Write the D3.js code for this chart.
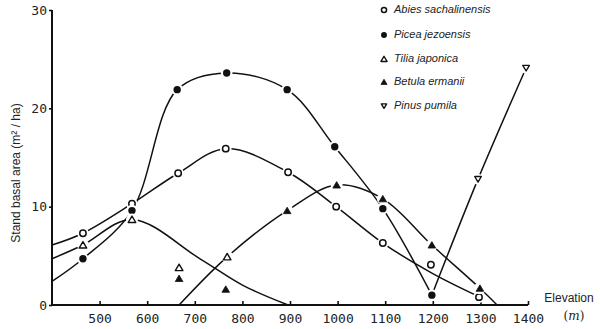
<!DOCTYPE html>
<html>
<head>
<meta charset="utf-8">
<script src="https://cdn.jsdelivr.net/npm/d3@7"></script>
<style>
  body { margin: 0; background: #fff; }
  svg { display: block; }
</style>
</head>
<body>
<div id="chart"></div>
<script>
/**
 * Data (elevation in m, stand basal area in m2/ha)
 */
const xTicks = [500, 600, 700, 800, 900, 1000, 1100, 1200, 1300, 1400];
const yTicks = [0, 10, 20, 30];

const speciesNames = ["Abies sachalinensis", "Picea jezoensis", "Tilia japonica", "Betula ermanii", "Pinus pumila"];
const speciesSymbols = ["openCircle", "circle", "openTriangle", "triangle", "openDown"];

// observed points
const abiesPoints = [[465, 7.3], [568, 10.3], [665, 13.4], [765, 15.9], [896, 13.5], [997, 10.0], [1095, 6.3], [1196, 4.1], [1297, 0.8]];
const piceaPoints = [[465, 4.7], [568, 9.6], [663, 21.9], [767, 23.6], [894, 21.9], [994, 16.1], [1095, 9.8], [1198, 1.0]];
const tiliaPoints = [[465, 6.1], [568, 8.7], [667, 3.8], [768, 4.9]];
const betulaPoints = [[667, 2.7], [765, 1.6], [894, 9.6], [998, 12.2], [1095, 10.8], [1198, 6.1], [1299, 1.7]];
const pinusPoints = [[1295, 12.8], [1396, 24.1]];

// hand fitted curves
const abiesCurve = [[400, 6.1], [465, 7.3], [568, 10.3], [665, 13.4], [765, 15.9], [896, 13.5], [997, 10.0], [1095, 6.3], [1200, 3.2], [1295, 0.9]];
const piceaCurve = [[400, 2.4], [465, 4.7], [568, 9.6], [663, 21.9], [767, 23.6], [894, 21.9], [994, 16.1], [1095, 9.8], [1198, 1.0]];
const tiliaCurve = [[400, 4.7], [465, 6.1], [568, 8.7], [711, 4.7], [801, 2.0], [896, 0]];
const betulaCurve = [[667, 0], [768, 4.9], [894, 9.6], [998, 12.2], [1095, 10.8], [1198, 6.1], [1299, 1.7], [1335, 0]];
const pinusCurve = [[1198, 1.0], [1295, 12.8], [1396, 24.1]];

/**
 * Basic settings
 */
const canvasWidth = 600;
const canvasHeight = 329;

const svg = d3.select("#chart")
  .append("svg")
  .attr("width", canvasWidth)
  .attr("height", canvasHeight)
  .style("background", "#ffffff");

const xScale = d3.scaleLinear()
  .domain([400, 1400])
  .range([52, 528]);

const yScale = d3.scaleLinear()
  .domain([0, 30])
  .range([305, 10]);

/**
 * Axes
 */
const xAxis = d3.axisBottom(xScale)
  .tickValues(xTicks)
  .tickSize(-4)
  .tickPadding(9)
  .tickFormat(d3.format("d"));

const gx = svg.append("g")
  .attr("transform", "translate(0," + yScale(0) + ")")
  .call(xAxis);

const yAxis = d3.axisLeft(yScale)
  .tickValues(yTicks)
  .tickSize(3)
  .tickPadding(2);

const gy = svg.append("g")
  .attr("transform", "translate(" + xScale(400) + ",0)")
  .call(yAxis);

[gx, gy].forEach(function(g) {
  g.select(".domain").attr("stroke", "#111").attr("stroke-width", 2);
  g.selectAll(".tick line").attr("stroke", "#111").attr("stroke-width", 1.6);
  g.selectAll(".tick text")
    .attr("fill", "#222")
    .style("font-family", "'DejaVu Sans Mono', monospace")
    .style("font-size", "13px");
});
gy.select(".domain").attr("d", "M0," + yScale(30) + "V" + yScale(0));
gx.select(".domain").attr("d", "M" + xScale(400) + ",0H" + xScale(1400));

svg.append("text")
  .attr("transform", "translate(17," + 173 + ") rotate(-90)")
  .attr("text-anchor", "middle")
  .attr("dominant-baseline", "middle")
  .style("font-family", "'Liberation Sans', Arial, sans-serif")
  .style("font-size", "12px")
  .attr("fill", "#222")
  .text("Stand basal area (m² / ha)");

svg.append("text")
  .attr("x", 569)
  .attr("y", 302)
  .attr("text-anchor", "middle")
  .style("font-family", "'Liberation Sans', Arial, sans-serif")
  .style("font-size", "12px")
  .attr("fill", "#222")
  .text("Elevation");

svg.append("text")
  .attr("x", 574)
  .attr("y", 320)
  .attr("text-anchor", "middle")
  .style("font-family", "'DejaVu Serif', serif")
  .style("font-size", "12px")
  .attr("fill", "#222")
  .html("(<tspan font-style='italic'>m</tspan>)");

/**
 * Curves
 */
const lineShape = d3.line()
  .x(function(d) { return xScale(d[0]); })
  .y(function(d) { return yScale(d[1]); })
  .curve(d3.curveCatmullRom.alpha(0.5));

const curves = [abiesCurve, piceaCurve, tiliaCurve, betulaCurve, pinusCurve];

svg.append("g")
  .selectAll("path")
  .data(curves)
  .enter()
  .append("path")
  .attr("d", lineShape)
  .style("fill", "none")
  .style("stroke", "#111")
  .style("stroke-width", 1.5);

/**
 * Markers
 */
function drawMarker(g, kind, cx, cy, k, halo) {
  if (kind === "openCircle" || kind === "circle") {
    if (halo) {
      g.append("circle")
        .attr("cx", cx).attr("cy", cy).attr("r", 3.6 * k + halo)
        .attr("fill", "#fff");
    }
    g.append("circle")
      .attr("cx", cx).attr("cy", cy).attr("r", (kind === "circle" ? 3.7 : 3.2) * k)
      .attr("fill", kind === "circle" ? "#111" : "#fff")
      .attr("stroke", "#111")
      .attr("stroke-width", kind === "circle" ? 0 : 1.5);
  } else {
    const down = kind === "openDown";
    const s = (down ? 3.3 : 3.8) * k;
    const pts = down
      ? [[cx - s, cy - s * 0.8], [cx + s, cy - s * 0.8], [cx, cy + s * 0.9]]
      : [[cx - s, cy + s * 0.8], [cx + s, cy + s * 0.8], [cx, cy - s * 0.9]];
    if (halo) {
      g.append("circle")
        .attr("cx", cx).attr("cy", cy).attr("r", s + halo)
        .attr("fill", "#fff");
    }
    g.append("path")
      .attr("d", "M" + pts.map(function(p) { return p.join(","); }).join("L") + "Z")
      .attr("fill", kind === "triangle" ? "#111" : "#fff")
      .attr("stroke", "#111")
      .attr("stroke-width", kind === "triangle" ? 0.8 : 1.4)
      .attr("stroke-linejoin", "round");
  }
}

const pointSets = [abiesPoints, piceaPoints, tiliaPoints, betulaPoints, pinusPoints];
const markerLayer = svg.append("g");
pointSets.forEach(function(points, i) {
  points.forEach(function(d) {
    drawMarker(markerLayer, speciesSymbols[i], xScale(d[0]), yScale(d[1]), 1, 2.2);
  });
});

/**
 * Legend
 */
const legendY = [10, 35, 59, 82, 106];
const legend = svg.append("g");
speciesNames.forEach(function(name, i) {
  drawMarker(legend, speciesSymbols[i], 384, legendY[i], 0.8, 0);
  legend.append("text")
    .attr("x", 394)
    .attr("y", legendY[i])
    .attr("dominant-baseline", "middle")
    .style("font-family", "'Liberation Sans', Arial, sans-serif")
    .style("font-style", "italic")
    .style("font-size", "11px")
    .attr("fill", "#222")
    .text(name);
});
</script>
</body>
</html>
